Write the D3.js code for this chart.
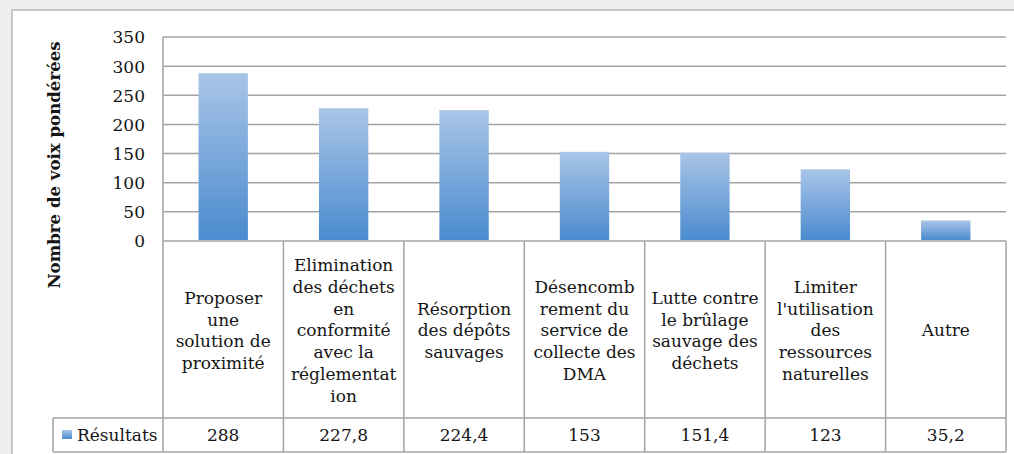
<!DOCTYPE html>
<html><head><meta charset="utf-8">
<script src="https://cdn.jsdelivr.net/npm/d3@7"></script>
<style>
html,body{margin:0;padding:0;background:#eef0f0;}
svg{display:block;}
text{font-family:"DejaVu Serif",serif;fill:#151515;}
</style></head>
<body>
<svg id="c" width="1014" height="454"></svg>
<script>
const categories = [
  "Proposer une solution de proximité",
  "Elimination des déchets en conformité avec la réglementation",
  "Résorption des dépôts sauvages",
  "Désencombrement du service de collecte des DMA",
  "Lutte contre le brûlage sauvage des déchets",
  "Limiter l'utilisation des ressources naturelles",
  "Autre"
];
const categoryLines = [
  ["Proposer","une","solution de","proximité"],
  ["Elimination","des déchets","en","conformité","avec la","réglementat","ion"],
  ["Résorption","des dépôts","sauvages"],
  ["Désencomb","rement du","service de","collecte des","DMA"],
  ["Lutte contre","le brûlage","sauvage des","déchets"],
  ["Limiter","l'utilisation","des","ressources","naturelles"],
  ["Autre"]
];
const values = [288, 227.8, 224.4, 153, 151.4, 123, 35.2];
const valueLabels = ["288","227,8","224,4","153","151,4","123","35,2"];
const yTicks = [0,50,100,150,200,250,300,350];
const seriesName = "Résultats";
const yTitle = "Nombre de voix pondérées";

const svg = d3.select("#c");
const L = 163, R = 1006, T = 37, B = 241, rowB = 418, tableB = 452, legL = 53;
const gridCol = "#a3a3a3";
const fs = 17;

// white panel
svg.append("rect").attr("x",12).attr("y",10).attr("width",1014).attr("height",460)
  .attr("fill","#fff").attr("stroke","#b5b7b7").attr("stroke-width",1.5);

const defs = svg.append("defs");
const grad = defs.append("linearGradient").attr("id","bg").attr("x1",0).attr("y1",0).attr("x2",0).attr("y2",1);
grad.append("stop").attr("offset","0%").attr("stop-color","#a9c5e7");
grad.append("stop").attr("offset","100%").attr("stop-color","#4b8bcf");

const x = d3.scaleBand().domain(categories).range([L,R]).padding(0);
const y = d3.scaleLinear().domain([0,350]).range([B,T]);

// gridlines
svg.append("g").selectAll("line").data(yTicks).join("line")
  .attr("x1",L).attr("x2",R).attr("y1",d=>y(d)).attr("y2",d=>y(d))
  .attr("stroke",gridCol).attr("stroke-width",1.5);

// y axis
const yAxis = d3.axisLeft(y).tickValues(yTicks).tickSize(0).tickPadding(18);
const ga = svg.append("g").attr("transform",`translate(${L},0)`).call(yAxis);
ga.select(".domain").remove();
ga.selectAll("text").attr("font-family","DejaVu Serif").attr("font-size",fs).attr("fill","#151515").attr("dy","0.35em");

// left axis line
svg.append("line").attr("x1",L).attr("x2",L).attr("y1",T).attr("y2",tableB)
  .attr("stroke",gridCol).attr("stroke-width",1.5);

// bars
const bw = x.bandwidth()*0.41;
svg.append("g").selectAll("rect").data(values).join("rect")
  .attr("x",(d,i)=>x(categories[i])+x.bandwidth()/2-bw/2)
  .attr("width",bw)
  .attr("y",d=>y(d))
  .attr("height",d=>y(0)-y(d)-1)
  .attr("fill","url(#bg)");

// table lines
const tbl = svg.append("g").attr("stroke",gridCol).attr("stroke-width",1.5);
categories.forEach((c,i)=>{
  tbl.append("line").attr("x1",x(c)+x.bandwidth()).attr("x2",x(c)+x.bandwidth())
    .attr("y1",B).attr("y2",tableB);
});
tbl.append("line").attr("x1",legL).attr("x2",R).attr("y1",rowB).attr("y2",rowB);
tbl.append("line").attr("x1",legL).attr("x2",R).attr("y1",tableB).attr("y2",tableB);
tbl.append("line").attr("x1",legL).attr("x2",legL).attr("y1",rowB).attr("y2",tableB);

// category labels
const lh = 21.8, midY = (B+rowB)/2 + 1;
categoryLines.forEach((lines,i)=>{
  const cx = x(categories[i]) + x.bandwidth()/2;
  const t = svg.append("text").attr("text-anchor","middle").attr("font-size",fs);
  lines.forEach((ln,j)=>{
    t.append("tspan").attr("x",cx)
      .attr("y", midY + (j-(lines.length-1)/2)*lh).attr("dy","0.35em").text(ln);
  });
});

// values row
svg.append("g").selectAll("text").data(valueLabels).join("text")
  .attr("x",(d,i)=>x(categories[i])+x.bandwidth()/2)
  .attr("y",(rowB+tableB)/2).attr("dy","0.36em")
  .attr("text-anchor","middle").attr("font-size",fs).text(d=>d);

// legend
svg.append("rect").attr("x",62).attr("y",430).attr("width",10).attr("height",9).attr("fill","url(#bg)");
svg.append("text").attr("x",77).attr("y",(rowB+tableB)/2).attr("dy","0.36em")
  .attr("font-size",fs).text(seriesName);

// y title
svg.append("text").attr("transform","translate(60,165) rotate(-90)")
  .attr("text-anchor","middle").attr("font-size",16.6).attr("font-weight","bold").text(yTitle);
</script>
</body></html>
